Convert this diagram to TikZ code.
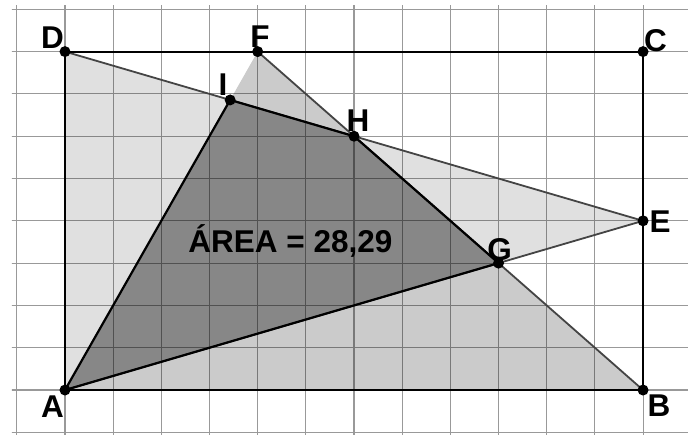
\documentclass[tikz,border=0pt]{standalone}
\usepackage{fontspec}
\setmainfont{Liberation Sans}
\usetikzlibrary{calc}

\definecolor{lightfill}{HTML}{E0E0E0}
\definecolor{midfill}{HTML}{CBCBCB}
\definecolor{darkfill}{HTML}{878787}
\definecolor{edgegray}{HTML}{444444}

\begin{document}
\begin{tikzpicture}[
    x=48.17pt, y=42.3pt,
    gridline/.style={black, opacity=0.4, line width=1.1pt},
    rectline/.style={black, line width=2pt},
    triline/.style={edgegray, line width=1.8pt},
    polyline/.style={black, line width=2.2pt},
    dot/.style={circle, fill=black, inner sep=0pt, minimum size=11pt},
    lbl/.style={font=\bfseries\fontsize{31.5}{35}\selectfont, inner sep=0pt}
]
\useasboundingbox (-1.349,-1.040) rectangle (12.933,9.22);

% vertices
\coordinate (A) at (0,0);
\coordinate (B) at (12,0);
\coordinate (C) at (12,8);
\coordinate (D) at (0,8);
\coordinate (E) at (12,4);
\coordinate (F) at (4,8);
\coordinate (G) at (9,3);
\coordinate (H) at (6,6);
\coordinate (I) at (24/7,48/7);

% fills
\fill[lightfill] (D) -- (A) -- (E) -- cycle;
\fill[midfill] (A) -- (F) -- (B) -- cycle;
\fill[darkfill] (A) -- (I) -- (H) -- (G) -- cycle;

% grid
\begin{scope}
  \clip (-1.10,-1.04) rectangle (12.933,9.10);
  \draw[gridline, step={(1,1)}] (-2,-2) grid (14,10);
\end{scope}

% edges
\draw[triline] (D) -- (E) -- (A);
\draw[triline] (F) -- (B);
\draw[rectline] (A) -- (B) -- (C) -- (D) -- cycle;
\draw[polyline] (A) -- (I) -- (H) -- (G) -- cycle;

% points
\foreach \p in {A,B,C,D,E,F,G,H,I}
  \node[dot] (d\p) at (\p) {};

% labels
\node[lbl] (lA) at ($(A)+(-12.5pt,-16.5pt)$) {A};
\node[lbl] (lB) at ($(B)+(16pt,-15.3pt)$) {B};
\node[lbl] (lC) at ($(C)+(12.5pt,10.7pt)$) {C};
\node[lbl] (lD) at ($(D)+(-12.5pt,13.7pt)$) {D};
\node[lbl] (lE) at ($(E)+(17pt,-1pt)$) {E};
\node[lbl] (lF) at ($(F)+(2.3pt,15pt)$) {F};
\node[lbl] (lG) at ($(G)+(1pt,13.9pt)$) {G};
\node[lbl] (lH) at ($(H)+(4pt,15.2pt)$) {H};
\node[lbl] (lI) at ($(I)+(-7.2pt,15.4pt)$) {I};
\node[lbl] (area) at (4.68,3.52) {ÁREA = 28,29};
\end{tikzpicture}
\end{document}
